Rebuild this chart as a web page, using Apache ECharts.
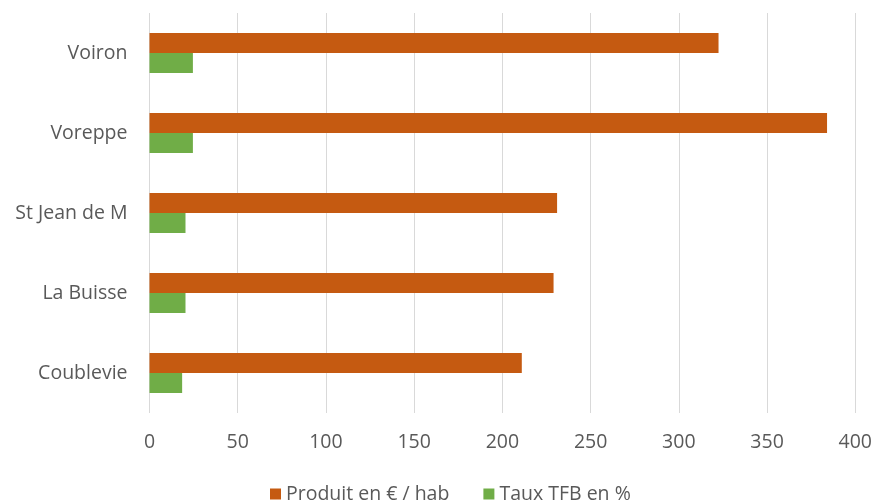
<!DOCTYPE html>
<html>
<head>
<meta charset="utf-8">
<script src="https://cdn.jsdelivr.net/npm/echarts@6/dist/echarts.min.js"></script>
<style>
  html, body { margin: 0; padding: 0; background: #ffffff; }
  #chart { width: 875px; height: 504px; }
</style>
</head>
<body>
<div id="chart"></div>
<script>
// Communes, listed top to bottom
const communes = ['Voiron', 'Voreppe', 'St Jean de M', 'La Buisse', 'Coublevie'];
// Produit en € par habitant
const produitParHab = [322.5, 384, 231, 229, 211];
// Taux de taxe foncière sur le bâti (%)
const tauxTFB = [24.6, 24.6, 20.4, 20.4, 18.5];
// Value axis ticks
const xTicks = { min: 0, max: 400, interval: 50 };

const labelFont = 'Open Sans, Liberation Sans, sans-serif';
const chart = echarts.init(document.getElementById('chart'), null, { renderer: 'canvas' });

chart.setOption({
  animation: false,
  backgroundColor: '#ffffff',
  grid: { left: 149.5, right: 18.5, top: 13, bottom: 91, containLabel: false },
  legend: {
    top: 479,
    left: 265,
    itemWidth: 11,
    itemHeight: 11,
    itemGap: 34,
    icon: 'rect',
    textStyle: { color: '#595959', fontSize: 19.5, fontFamily: labelFont },
    data: ['Produit en € / hab', 'Taux TFB en %']
  },
  xAxis: {
    type: 'value',
    min: xTicks.min,
    max: xTicks.max,
    interval: xTicks.interval,
    axisLine: { show: false },
    axisTick: { show: false },
    axisLabel: { color: '#595959', fontSize: 19.5, fontFamily: labelFont, margin: 19 },
    splitLine: { show: true, lineStyle: { color: '#d9d9d9', width: 1 } }
  },
  yAxis: {
    type: 'category',
    inverse: true,
    data: communes,
    axisLine: { show: false },
    axisTick: { show: false },
    axisLabel: { color: '#595959', fontSize: 19.5, fontFamily: labelFont, margin: 22 }
  },
  series: [
    {
      name: 'Produit en € / hab',
      type: 'bar',
      data: produitParHab,
      barWidth: 20,
      barGap: '0%',
      itemStyle: { color: '#c55a11' }
    },
    {
      name: 'Taux TFB en %',
      type: 'bar',
      data: tauxTFB,
      barWidth: 20,
      barGap: '0%',
      itemStyle: { color: '#70ad47' }
    }
  ]
});
</script>
</body>
</html>
